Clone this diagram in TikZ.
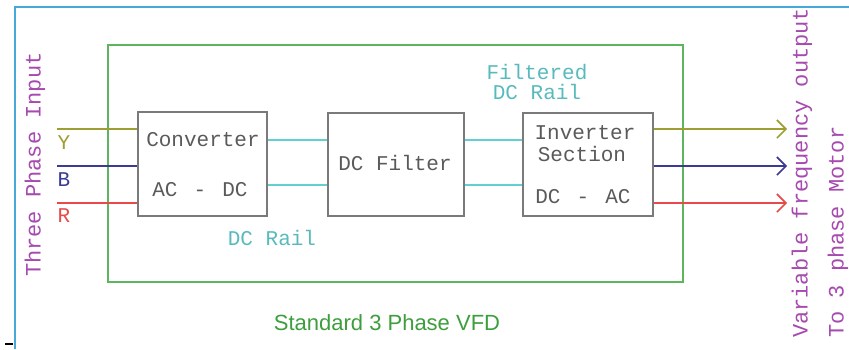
\documentclass[tikz,border=0pt]{standalone}
\usepackage{fontspec}
\setmainfont{Liberation Sans}
\newfontfamily\cadfont{Liberation Mono}
\usetikzlibrary{arrows.meta}

\definecolor{frameblue}{HTML}{45AAD8}
\definecolor{vfdgreen}{HTML}{5DB65D}
\definecolor{titlegreen}{HTML}{3C9E3C}
\definecolor{boxgray}{HTML}{7A7A7A}
\definecolor{boxtext}{HTML}{5A5A5A}
\definecolor{railcyan}{HTML}{62CFD2}
\definecolor{phaseY}{HTML}{9E9E32}
\definecolor{phaseB}{HTML}{3B3B96}
\definecolor{phaseR}{HTML}{E84A4A}
\definecolor{notepurple}{HTML}{A64AB0}

\tikzset{
  stage/.style={draw=boxgray, line width=1.4pt, inner sep=0pt},
  cad/.style={font=\cadfont\fontsize{21}{23}\selectfont, inner sep=0pt},
  boxlabel/.style={cad, text=boxtext},
  raillabel/.style={cad, text=railcyan!90!black, align=center},
  sidelabel/.style={cad, font=\cadfont\fontsize{22}{24}\selectfont, text=notepurple, rotate=90, anchor=west},
  rail/.style={draw=railcyan, line width=2.6pt},
  phase/.style={line width=1.6pt},
  outphase/.style={line width=1.6pt, -{Straight Barb[length=9pt,width=18pt,line width=1.6pt]}},
}

\begin{document}
\begin{tikzpicture}[x=1pt, y=-1pt]
  \useasboundingbox (0,0) rectangle (849,349);

  % window frame and marker
  \draw[frameblue, line width=1.5pt] (15,349) -- (15,7) -- (849,7);
  \draw[black, line width=2.5pt] (5,344) -- (13,344);

  % VFD enclosure
  \node[draw=vfdgreen, line width=2pt, minimum width=575pt, minimum height=237pt, inner sep=0pt]
    (vfd) at (395.5,163.5) {};
  \node[font=\fontsize{22}{24}\selectfont, text=titlegreen, inner sep=0pt] (title) at (387,323) {Standard 3 Phase VFD};

  % stages
  \node[stage, minimum width=129pt, minimum height=104pt] (conv) at (202.5,164) {};
  \node[stage, minimum width=136pt, minimum height=103pt] (filt) at (396,164.5) {};
  \node[stage, minimum width=130pt, minimum height=103pt] (inv)  at (588,164.5) {};

  \node[boxlabel] (convA) at (203,140) {Converter};
  \node[boxlabel] (convB) at (200,190) {AC\,\ -\ \,DC};
  \node[boxlabel] (filtA) at (395,163) {DC Filter};
  \node[boxlabel] (invA)  at (585,133) {Inverter};
  \node[boxlabel] (invB)  at (582,154) {Section};
  \node[boxlabel] (invC)  at (583,197) {DC\,\ -\ \,AC};

  % DC rails
  \coordinate (railP) at (0,140);
  \coordinate (railN) at (0,185);
  \draw[rail] (conv.east |- railP) -- (filt.west |- railP);
  \draw[rail] (conv.east |- railN) -- (filt.west |- railN);
  \draw[rail] (filt.east |- railP) -- (inv.west |- railP);
  \draw[rail] (filt.east |- railN) -- (inv.west |- railN);
  \node[raillabel] (rail1) at (272,238) {DC Rail};
  \node[raillabel] (rail2) at (537,82) {Filtered\\[-3pt]DC Rail};

  % three phase input
  \coordinate (inY) at (57,129);
  \coordinate (inB) at (57,166);
  \coordinate (inR) at (57,203);
  \draw[phase, phaseY] (inY) -- (inY -| conv.west);
  \draw[phase, phaseB] (inB) -- (inB -| conv.west);
  \draw[phase, phaseR] (inR) -- (inR -| conv.west);
  \node[cad, text=phaseY] (labY) at (64,143) {Y};
  \node[cad, text=phaseB] (labB) at (64,180) {B};
  \node[cad, text=phaseR] (labR) at (64,216) {R};

  % variable frequency output
  \coordinate (outY) at (787,129);
  \coordinate (outB) at (787,166);
  \coordinate (outR) at (787,203);
  \draw[outphase, phaseY] (inv.east |- outY) -- (outY);
  \draw[outphase, phaseB] (inv.east |- outB) -- (outB);
  \draw[outphase, phaseR] (inv.east |- outR) -- (outR);

  % side notes
  \node[sidelabel] (inNote)   at (35,277)  {Three Phase Input};
  \node[sidelabel] (outNote)  at (802,338) {Variable frequency output};
  \node[sidelabel] (motNote)  at (838,338) {To 3 phase Motor};
\end{tikzpicture}
\end{document}
